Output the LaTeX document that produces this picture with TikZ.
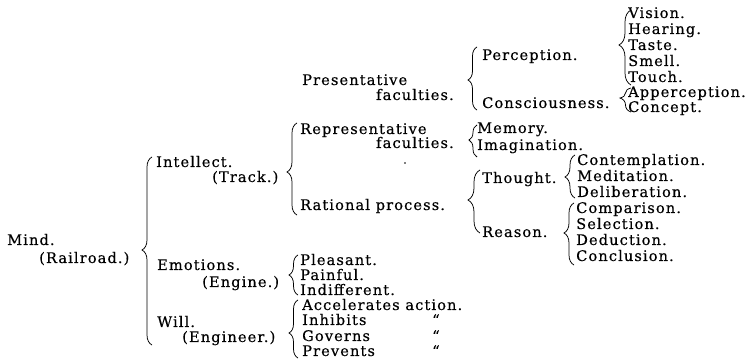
\documentclass[tikz,border=0pt]{standalone}
\usepackage{fontspec}
\setmainfont{DejaVu Serif}[LetterSpace=7.5, FakeBold=0.4]
\usetikzlibrary{decorations.pathreplacing}
\newcommand\mybrace[5]{% x, top, bottom, tip, amplitude
  \pgfmathsetmacro\myasp{(#3-#4)/(#3-#2)}%
  \draw[bracelook, decoration={brace, amplitude=#5pt, aspect=\myasp}] (#1,#3) -- (#1,#2);
}
\begin{document}
\begin{tikzpicture}[x=1pt,y=-1pt,
  txt/.style={anchor=base west, inner sep=0pt, font=\fontsize{14.6}{16}\selectfont},
  bracelook/.style={decorate, line width=0.75pt}]
\useasboundingbox (0,0) rectangle (753,363);
% level 0
\node[txt] (mind) at (7,245) {Mind.};
\node[txt] (rail) at (39,263) {(Railroad.)};
% level 1
\node[txt] (intel) at (156,167) {Intellect.};
\node[txt] (track) at (212,182) {(Track.)};
\node[txt] (emot) at (157,270) {Emotions.};
\node[txt] (engine) at (202,287) {(Engine.)};
\node[txt] (will) at (157,327) {Will.};
\node[txt] (engineer) at (182,342) {(Engineer.)};
% intellect
\node[txt] (pres) at (302,85) {Presentative};
\node[txt] (presf) at (376,100) {faculties.};
\node[txt] (repr) at (300,134) {Representative};
\node[txt] (reprf) at (376,148) {faculties.};
\node[txt] (rat) at (300,210) {Rational process.};
% emotions
\node[txt] (pleas) at (300,265) {Pleasant.};
\node[txt] (pain) at (300,280) {Painful.};
\node[txt] (indif) at (300,295) {Indifferent.};
% will
\node[txt] (accel) at (302,310) {Accelerates action.};
\node[txt] (inhib) at (302,325) {Inhibits};
\node[txt] (gov) at (302,341) {Governs};
\node[txt] (prev) at (302,356) {Prevents};
\node[txt] (d1) at (432,325) {“};
\node[txt] (d2) at (432,341) {“};
\node[txt] (d3) at (432,356) {“};
% presentative
\node[txt] (perc) at (482,60) {Perception.};
\node[txt] (consc) at (482,108) {Consciousness.};
% representative
\node[txt] (mem) at (477,133) {Memory.};
\node[txt] (imag) at (477,150) {Imagination.};
% rational
\node[txt] (thought) at (482,183) {Thought.};
\node[txt] (reason) at (482,237) {Reason.};
% thought
\node[txt] (cont) at (577,165) {Contemplation.};
\node[txt] (medit) at (577,181) {Meditation.};
\node[txt] (delib) at (577,197) {Deliberation.};
% reason
\node[txt] (comp) at (576,213) {Comparison.};
\node[txt] (sel) at (576,229) {Selection.};
\node[txt] (ded) at (576,245) {Deduction.};
\node[txt] (concl) at (576,261) {Conclusion.};
% perception
\node[txt] (vis) at (628,18) {Vision.};
\node[txt] (hear) at (628,34) {Hearing.};
\node[txt] (taste) at (628,50) {Taste.};
\node[txt] (smell) at (628,66) {Smell.};
\node[txt] (touch) at (628,82) {Touch.};
% consciousness
\node[txt] (apper) at (628,97) {Apperception.};
\node[txt] (conc) at (628,112) {Concept.};
% braces
\mybrace{152}{157}{345}{250}{10}
\mybrace{297}{123}{215}{172}{10}
\mybrace{298}{255}{295}{275}{9}
\mybrace{298}{300}{358}{333}{9}
\mybrace{477}{47}{110}{80}{9}
\mybrace{477}{125}{157}{140}{8}
\mybrace{480}{170}{233}{200}{12}
\mybrace{575}{155}{198}{177}{10}
\mybrace{574}{203}{265}{233}{10}
\mybrace{631}{10}{85}{45}{12}
\mybrace{631}{88}{112}{98}{11}
% stray dot
\fill (405,163) circle (0.8);
\end{tikzpicture}
\end{document}
